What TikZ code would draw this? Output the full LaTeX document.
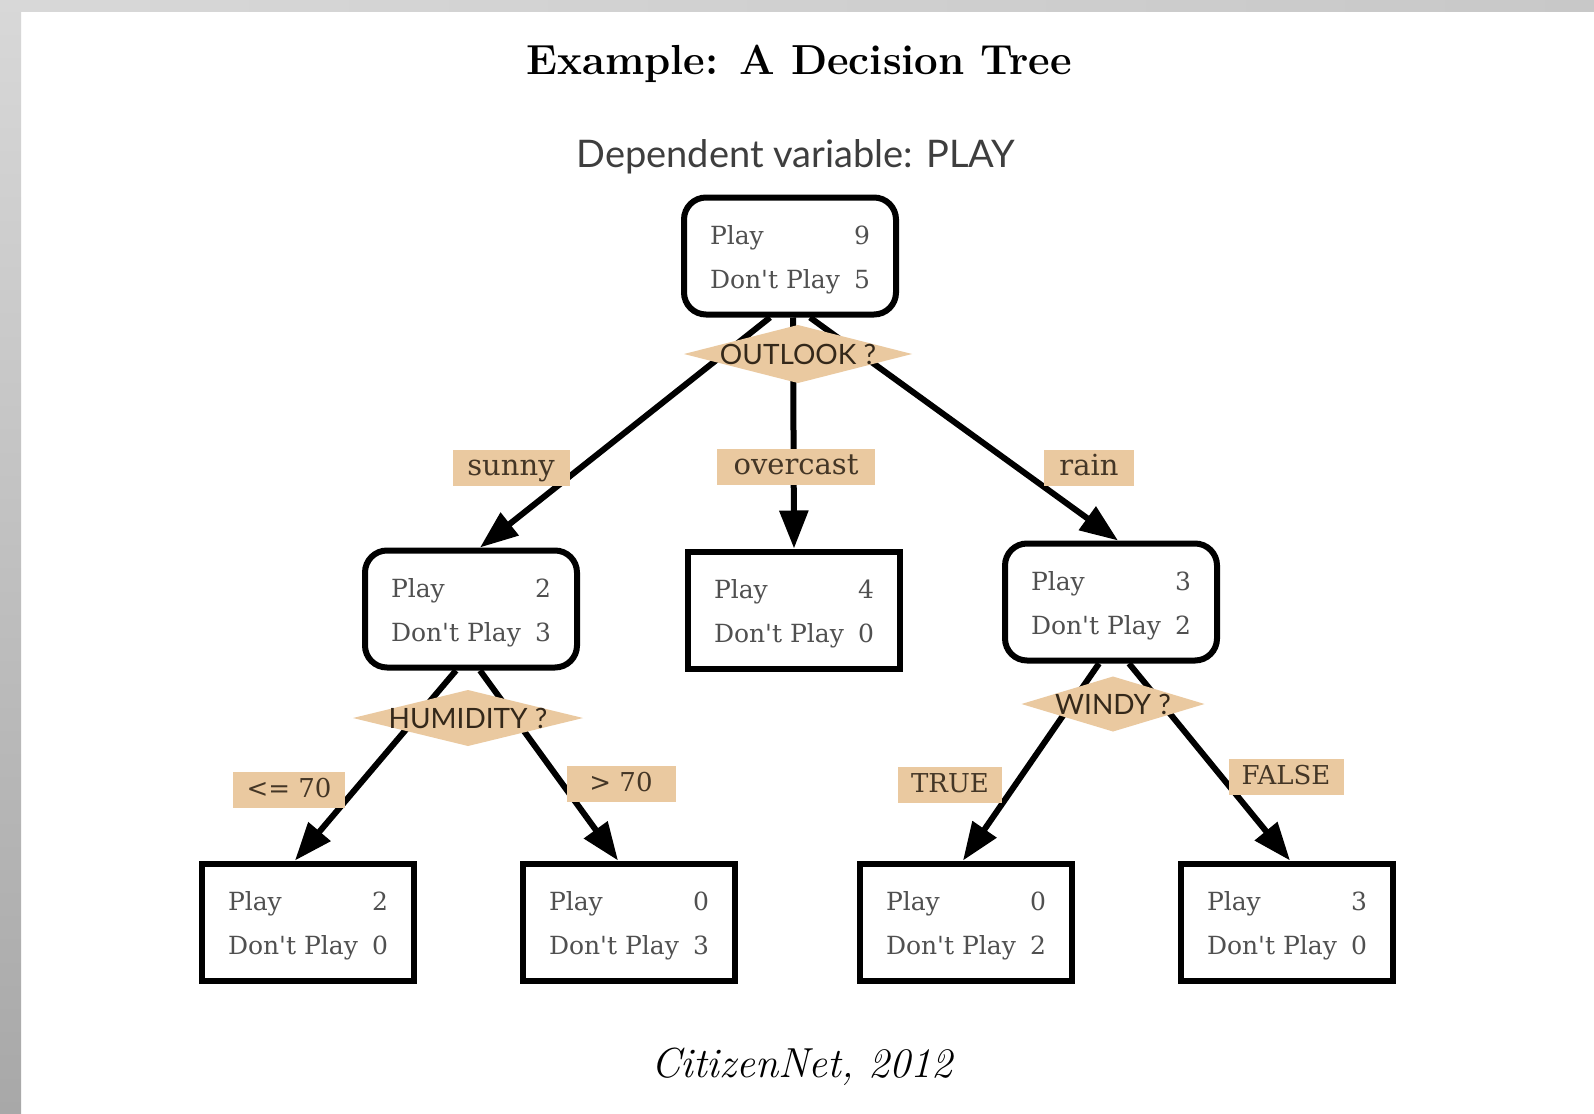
\documentclass[tikz,border=0pt]{standalone}
\usepackage{fontspec}
\newfontfamily\boxfont{DejaVu Serif}
\newfontfamily\dfont{Lato}
\usetikzlibrary{arrows.meta}
\definecolor{labtan}{RGB}{234,201,160}
\definecolor{boxtext}{RGB}{80,80,80}
\definecolor{labtext}{RGB}{68,54,38}
\definecolor{diamtext}{RGB}{52,40,26}
\definecolor{deptext}{RGB}{62,62,62}
\newcommand\pplines[2]{\makebox[160pt][l]{\rule{0pt}{27pt}Play\hfill #1}\\\makebox[160pt][l]{Don't Play\hfill #2}}
\tikzset{
  box/.style={draw=black, line width=6pt, fill=white, minimum width=212pt, minimum height=117pt,
    inner sep=0pt, font=\boxfont\fontsize{25}{44}\selectfont, text=boxtext, align=center},
  decbox/.style={box, rounded corners=22pt},
  edge/.style={line width=6pt, -{Triangle[length=38pt,width=28pt]}},
  lab/.style={fill=labtan, inner sep=0pt, minimum height=36pt, text height=20pt, text depth=6pt,
    font=\boxfont\fontsize{29}{29}\selectfont, text=labtext},
  smlab/.style={lab, font=\boxfont\fontsize{26}{26}\selectfont},
  diam/.style={inner sep=0pt, font=\dfont\fontsize{28}{28}\selectfont, text=diamtext,
    path picture={\fill[labtan] (path picture bounding box.west) -- (path picture bounding box.north)
      -- (path picture bounding box.east) -- (path picture bounding box.south) -- cycle;}}
}
\begin{document}
\begin{tikzpicture}[x=1pt,y=-1pt]
\useasboundingbox (0,0) rectangle (1594,1113);
\fill[white] (0,0) rectangle (1594,1113);
\shade[top color={rgb,255:red,216;green,216;blue,216}, bottom color={rgb,255:red,168;green,168;blue,168}] (0,0) rectangle (21,1113);
\shade[left color={rgb,255:red,216;green,216;blue,216}, right color={rgb,255:red,200;green,200;blue,200}] (0,0) rectangle (1594,12);

\node (title) at (799,64) {\fontsize{42}{42}\selectfont\bfseries Example: A Decision Tree};
\node[text=deptext] (dep) at (796,157) {\dfont\fontsize{38}{38}\selectfont Dependent variable: PLAY};
\node (cite) at (802,1067) {\fontsize{42}{42}\selectfont\itshape CitizenNet, 2012};

\node[decbox] (root) at (790,256) {\pplines{9}{5}};
\node[decbox] (sunny) at (471,609) {\pplines{2}{3}};
\node[box] (over) at (794,610) {\pplines{4}{0}};
\node[decbox] (rain) at (1111,602) {\pplines{3}{2}};
\node[box] (ll) at (308,922) {\pplines{2}{0}};
\node[box] (lr) at (629,922) {\pplines{0}{3}};
\node[box] (rl) at (966,922) {\pplines{0}{2}};
\node[box] (rr) at (1287,922) {\pplines{3}{0}};

\draw[edge] ([xshift=-20pt]root.south) -- ([xshift=9pt]sunny.north);
\draw[edge] ([xshift=3pt]root.south) -- (over.north);
\draw[edge] ([xshift=20pt]root.south) -- ([xshift=7pt]rain.north);
\draw[edge] ([xshift=-15pt]sunny.south) -- ([xshift=-13pt]ll.north);
\draw[edge] ([xshift=9pt]sunny.south) -- ([xshift=-11pt]lr.north);
\draw[edge] ([xshift=-12pt]rain.south) -- ([xshift=-3pt]rl.north);
\draw[edge] ([xshift=18pt]rain.south) -- ([xshift=3pt]rr.north);

\node[diam, minimum width=228pt, minimum height=58pt] (outlook) at (798,354) {OUTLOOK ?};
\node[diam, minimum width=230pt, minimum height=56pt] (humid) at (468,718) {HUMIDITY ?};
\node[diam, minimum width=183pt, minimum height=55pt] (windy) at (1113,704) {WINDY ?};

\node[lab, minimum width=117pt] (lsunny) at (511,468) {sunny};
\node[lab, minimum width=158pt] (lover) at (796,467) {overcast};
\node[lab, minimum width=90pt] (lrain) at (1089,468) {rain};
\node[smlab, minimum width=112pt] (lle) at (289,790) {<= 70};
\node[smlab, minimum width=109pt] (lgt) at (621,784) {> 70};
\node[smlab, minimum width=104pt] (ltrue) at (950,785) {TRUE};
\node[smlab, minimum width=115pt] (lfalse) at (1286,777) {FALSE};
\end{tikzpicture}
\end{document}
